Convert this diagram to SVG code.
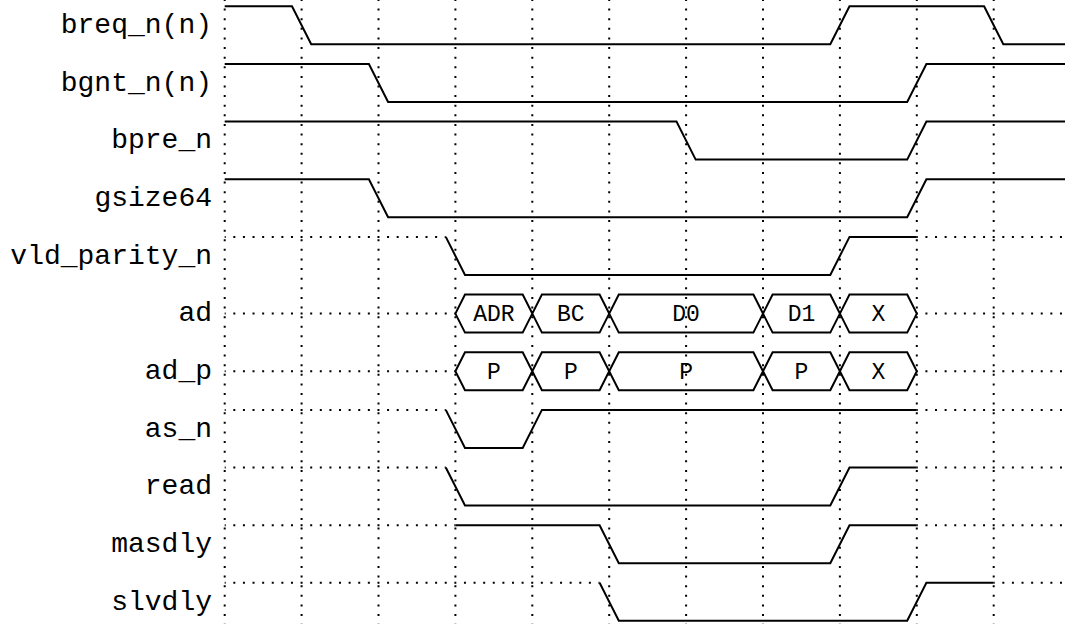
<svg xmlns="http://www.w3.org/2000/svg" width="1065" height="624" viewBox="0 0 1065 624">
<style>
.sig{fill:none;stroke:#000;stroke-width:2;stroke-linejoin:miter}
.dot{fill:none;stroke:#000;stroke-width:2;stroke-dasharray:2 7.61;stroke-dashoffset:1}
.lbl{font-family:"Liberation Mono","DejaVu Sans Mono",monospace;font-size:28px;text-anchor:end;fill:#000}
.dat{font-family:"Liberation Mono","DejaVu Sans Mono",monospace;font-size:23px;text-anchor:middle;fill:#000}
</style>
<rect width="1065" height="624" fill="#fff"/>
<g id="grid">
<path class="dot" d="M224.7,0V624M301.6,0V624M378.5,0V624M455.4,0V624M532.3,0V624M609.2,0V624M686.1,0V624M763,0V624M839.9,0V624M916.8,0V624M993.7,0V624"/>
</g>
<g id="breq_n">
<text class="lbl" x="212" y="33">breq_n(n)</text>
<path class="sig" d="M224.7,6.3H292L311.2,44.3H830.3L849.5,6.3H984.1L1003.3,44.3H1065"/>
</g>
<g id="bgnt_n">
<text class="lbl" x="212" y="90.7">bgnt_n(n)</text>
<path class="sig" d="M224.7,64H368.9L388.1,102H907.2L926.4,64H1065"/>
</g>
<g id="bpre_n">
<text class="lbl" x="212" y="148.3">bpre_n</text>
<path class="sig" d="M224.7,121.6H676.5L695.7,159.6H907.2L926.4,121.6H1065"/>
</g>
<g id="gsize64">
<text class="lbl" x="212" y="206">gsize64</text>
<path class="sig" d="M224.7,179.3H368.9L388.1,217.3H907.2L926.4,179.3H1065"/>
</g>
<g id="vld_parity_n">
<text class="lbl" x="212" y="263.6">vld_parity_n</text>
<path class="dot" d="M224.7,236.9H445.8M916.8,236.9H1065"/>
<path class="sig" d="M445.8,236.9L465,274.9H830.3L849.5,236.9H916.8"/>
</g>
<g id="ad">
<text class="lbl" x="212" y="321.3">ad</text>
<path class="dot" d="M224.7,313.6H455.4M916.8,313.6H1065"/>
<path class="sig" d="M455.4,313.6L465,294.6H522.7L532.3,313.6L522.7,332.6H465Z M532.3,313.6L541.9,294.6H599.6L609.2,313.6L599.6,332.6H541.9Z M609.2,313.6L618.8,294.6H753.4L763,313.6L753.4,332.6H618.8Z M763,313.6L772.6,294.6H830.3L839.9,313.6L830.3,332.6H772.6Z M839.9,313.6L849.5,294.6H907.2L916.8,313.6L907.2,332.6H849.5Z"/>
<text class="dat" x="493.9" y="321">ADR</text>
<text class="dat" x="570.8" y="321">BC</text>
<text class="dat" x="686.1" y="321">D0</text>
<text class="dat" x="801.5" y="321">D1</text>
<text class="dat" x="878.4" y="321">X</text>
</g>
<g id="ad_p">
<text class="lbl" x="212" y="378.9">ad_p</text>
<path class="dot" d="M224.7,371.2H455.4M916.8,371.2H1065"/>
<path class="sig" d="M455.4,371.2L465,352.2H522.7L532.3,371.2L522.7,390.2H465Z M532.3,371.2L541.9,352.2H599.6L609.2,371.2L599.6,390.2H541.9Z M609.2,371.2L618.8,352.2H753.4L763,371.2L753.4,390.2H618.8Z M763,371.2L772.6,352.2H830.3L839.9,371.2L830.3,390.2H772.6Z M839.9,371.2L849.5,352.2H907.2L916.8,371.2L907.2,390.2H849.5Z"/>
<text class="dat" x="493.9" y="378.6">P</text>
<text class="dat" x="570.8" y="378.6">P</text>
<text class="dat" x="686.1" y="378.6">P</text>
<text class="dat" x="801.5" y="378.6">P</text>
<text class="dat" x="878.4" y="378.6">X</text>
</g>
<g id="as_n">
<text class="lbl" x="212" y="436.6">as_n</text>
<path class="dot" d="M224.7,409.9H445.8M916.8,409.9H1065"/>
<path class="sig" d="M445.8,409.9L465,447.9H522.7L541.9,409.9H916.8"/>
</g>
<g id="read">
<text class="lbl" x="212" y="494.2">read</text>
<path class="dot" d="M224.7,467.5H445.8M916.8,467.5H1065"/>
<path class="sig" d="M445.8,467.5L465,505.5H830.3L849.5,467.5H916.8"/>
</g>
<g id="masdly">
<text class="lbl" x="212" y="551.9">masdly</text>
<path class="dot" d="M224.7,525.2H455.4M916.8,525.2H1065"/>
<path class="sig" d="M455.4,525.2H599.6L618.8,563.2H830.3L849.5,525.2H916.8"/>
</g>
<g id="slvdly">
<text class="lbl" x="212" y="609.5">slvdly</text>
<path class="dot" d="M224.7,582.8H599.6M993.7,582.8H1065"/>
<path class="sig" d="M599.6,582.8L618.8,620.8H907.2L926.4,582.8H993.7"/>
</g>
</svg>
